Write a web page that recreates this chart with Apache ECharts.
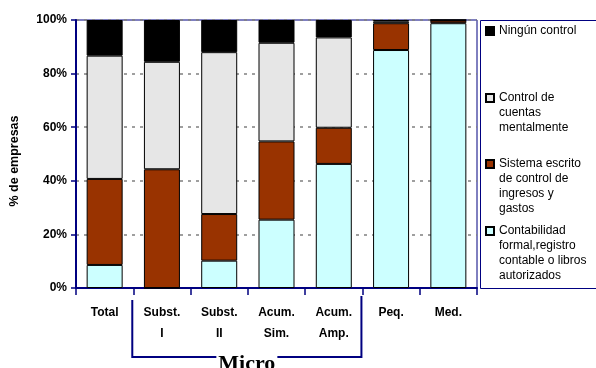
<!DOCTYPE html>
<html>
<head>
<meta charset="utf-8">
<script src="https://cdn.jsdelivr.net/npm/echarts@6/dist/echarts.min.js"></script>
<style>html,body{margin:0;padding:0;background:#fff;}#c{width:596px;height:368px;}</style>
</head>
<body>
<div id="c"></div>
<script>
var categories = ['Total', 'Subst.\nI', 'Subst.\nII', 'Acum.\nSim.', 'Acum.\nAmp.', 'Peq.', 'Med.'];
var seriesNames = ['Contabilidad formal,registro contable o libros autorizados', 'Sistema escrito de control de ingresos y gastos', 'Control de cuentas mentalmente', 'Ningún control'];
var contabilidad = [8.6, 0, 10.2, 25.5, 46.3, 88.8, 98.8];
var sistema = [32.1, 44.3, 17.4, 29.2, 13.5, 10.0, 1.0];
var mental = [46.0, 40.1, 60.4, 36.8, 33.7, 0.7, 0.2];
var ninguno = [13.3, 15.6, 12.0, 8.5, 6.5, 0.5, 0.0];
var yTicks = [0, 20, 40, 60, 80, 100];
var groupLabel = 'Micro';
var groupFirst = 'Subst.\nI', groupLast = 'Acum.\nAmp.';

var legendText = {};
legendText[seriesNames[3]] = 'Ningún control';
legendText[seriesNames[2]] = '\n\nControl de\ncuentas\nmentalmente';
legendText[seriesNames[1]] = '\n\n\nSistema escrito\nde control de\ningresos y\ngastos';
legendText[seriesNames[0]] = '\n\n\nContabilidad\nformal,registro\ncontable o libros\nautorizados';

var colors = ['#CCFFFF', '#993300', '#E6E6E6', '#000000'];
var values = [contabilidad, sistema, mental, ninguno];
var navy = '#000080';
var font = 'Liberation Sans, Arial, sans-serif';

function mkLegend(name, top) {
  return {
    data: [name], left: 485, top: top, orient: 'vertical',
    itemWidth: 8, itemHeight: 8, icon: 'rect', padding: 0,
    selectedMode: false,
    formatter: function (n) { return legendText[n]; },
    textStyle: { fontFamily: font, fontSize: 12, color: '#000', lineHeight: 15 }
  };
}

var chart = echarts.init(document.getElementById('c'), null, { renderer: 'canvas' });
var option = {
  animation: false,
  backgroundColor: '#fff',
  color: colors,
  grid: { left: 71, right: 119, top: 20, bottom: 80, show: true, borderColor: navy, borderWidth: 1, backgroundColor: 'transparent' },
  legend: [
    mkLegend(seriesNames[3], 23.5),
    mkLegend(seriesNames[2], 60.5),
    mkLegend(seriesNames[1], 111.5),
    mkLegend(seriesNames[0], 178.5)
  ],
  xAxis: {
    type: 'category', data: categories,
    axisLine: { lineStyle: { color: navy, width: 2 } },
    axisTick: { show: true, length: 7, lineStyle: { color: navy, width: 1.5 } },
    axisLabel: { margin: 14, color: '#000', fontFamily: font, fontWeight: 'bold', fontSize: 12, lineHeight: 21 }
  },
  yAxis: {
    type: 'value', min: yTicks[0], max: yTicks[yTicks.length - 1], interval: yTicks[1] - yTicks[0],
    name: '% de empresas', nameLocation: 'middle', nameGap: 55, nameRotate: 90,
    nameTextStyle: { fontFamily: font, fontWeight: 'bold', fontSize: 12.5, color: '#000', padding: [0, 14, 0, 0] },
    axisLine: { show: true, lineStyle: { color: navy, width: 2 } },
    axisTick: { show: true, length: 5, lineStyle: { color: navy, width: 1.5 } },
    axisLabel: { margin: 9, formatter: '{value}%', color: '#000', fontFamily: font, fontWeight: 'bold', fontSize: 12 },
    splitLine: { show: true, lineStyle: { color: '#808080', type: [3, 5], width: 1.5 } }
  },
  series: values.map(function (v, i) {
    return {
      name: seriesNames[i], type: 'bar', stack: 'total', data: v, barWidth: 36,
      itemStyle: { color: colors[i], borderColor: '#000', borderWidth: 1 }
    };
  })
};
chart.setOption(option);

var c1 = chart.convertToPixel({ xAxisIndex: 0 }, categories[0]);
var c2 = chart.convertToPixel({ xAxisIndex: 0 }, categories[1]);
var w = c2 - c1;
var L = chart.convertToPixel({ xAxisIndex: 0 }, groupFirst) - w / 2 - 1;
var R = chart.convertToPixel({ xAxisIndex: 0 }, groupLast) + w / 2 - 1;
var y0 = chart.convertToPixel({ yAxisIndex: 0 }, 0);
var y100 = chart.convertToPixel({ yAxisIndex: 0 }, 100);
var gridRight = 596 - 119;
chart.setOption({
  graphic: [
    { type: 'rect', shape: { x: gridRight + 3.5, y: y100 + 0.5, width: 130, height: y0 - y100 }, style: { fill: 'none', stroke: navy, lineWidth: 1 } },
    { type: 'polyline', shape: { points: [[L, y0 + 12], [L, y0 + 69], [R, y0 + 69], [R, y0 + 8]] }, style: { fill: 'none', stroke: navy, lineWidth: 2 } },
    { type: 'text', x: (L + R) / 2, y: y0 + 76, style: { text: groupLabel, align: 'center', verticalAlign: 'middle', fontFamily: 'Liberation Serif, Times New Roman, serif', fontWeight: 'bold', fontSize: 22, fill: '#000', backgroundColor: '#fff', padding: [0, 2, 0, 2] } }
  ]
});
</script>
</body>
</html>
